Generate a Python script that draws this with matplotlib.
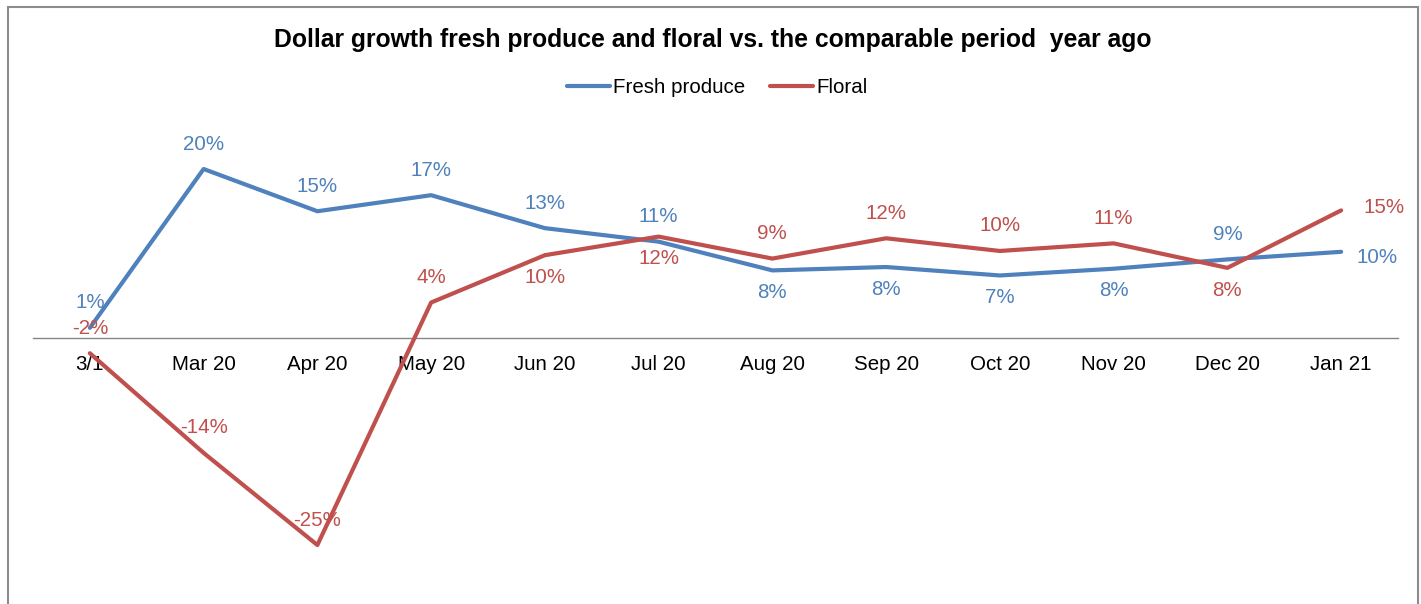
import matplotlib
matplotlib.use("Agg")
import matplotlib.pyplot as plt
import numpy as np
from matplotlib.patches import Rectangle

categories = ["3/1", "Mar 20", "Apr 20", "May 20", "Jun 20", "Jul 20", "Aug 20",
              "Sep 20", "Oct 20", "Nov 20", "Dec 20", "Jan 21"]
fresh = [1.2, 20.0, 15.0, 16.9, 13.0, 11.4, 8.0, 8.4, 7.4, 8.2, 9.3, 10.2]
floral = [-1.8, -13.6, -24.5, 4.2, 9.8, 12.0, 9.4, 11.8, 10.3, 11.2, 8.3, 15.1]
# label placement: 'a' above, 'b' below, 'r' right
fresh_pos = ['a', 'a', 'a', 'a', 'a', 'a', 'b', 'b', 'b', 'b', 'a', 'r']
floral_pos = ['a', 'a', 'a', 'a', 'b', 'b', 'a', 'a', 'a', 'a', 'b', 'r']

BLUE = "#4F81BD"
RED = "#C0504D"

plt.rcParams['font.family'] = ['Liberation Sans', 'DejaVu Sans']

W, H = 1421, 604
fig = plt.figure(figsize=(W / 100, H / 100), dpi=100)

def fx(px):
    return px / W

def fy(py):
    return 1 - py / H

ymin, ymax = -30, 26
pxper = 8.45
zero_px = 338
bot_px = zero_px - ymin * pxper
top_px = zero_px - ymax * pxper
ax = fig.add_axes([fx(33), fy(bot_px), fx(1398) - fx(33), fy(top_px) - fy(bot_px)])
ax.set_xlim(-0.5, len(categories) - 0.5)
ax.set_ylim(ymin, ymax)

x = np.arange(len(categories))
ax.plot(x, fresh, color=BLUE, lw=3.0, label="Fresh produce", solid_capstyle='round', zorder=3)
ax.plot(x, floral, color=RED, lw=3.0, label="Floral", solid_capstyle='round', zorder=3)

for s in ['top', 'right', 'left']:
    ax.spines[s].set_visible(False)
ax.spines['bottom'].set_position(('data', 0))
ax.spines['bottom'].set_color('#868686')
ax.spines['bottom'].set_linewidth(1.0)
ax.set_yticks([])
ax.set_xticks(x)
ax.set_xticklabels(categories, fontsize=14.8)
ax.tick_params(axis='x', length=0, pad=12)

def fmt(v):
    s = -1 if v < 0 else 1
    return f"{s * int(np.floor(abs(v) + 0.5))}%"

def label(vals, pos, color, right_off):
    for i, (v, p) in enumerate(zip(vals, pos)):
        if p == 'a':
            off, ha, va = (0, 18), 'center', 'center'
        elif p == 'b':
            off, ha, va = (0, -16), 'center', 'center'
        else:
            off, ha, va = right_off, 'left', 'center'
        ax.annotate(fmt(v), (i, v), xytext=off, textcoords='offset points',
                    ha=ha, va=va, color=color, fontsize=14.8, annotation_clip=False)

label(fresh, fresh_pos, BLUE, (11, -4))
label(floral, floral_pos, RED, (16, 2))

fig.text(fx(713), fy(40), "Dollar growth fresh produce and floral vs. the comparable period  year ago",
         ha='center', va='center', fontsize=17.8, fontweight='bold')

leg = fig.legend(loc='center', bbox_to_anchor=(fx(717), fy(88)), ncol=2, frameon=False,
                 fontsize=14.8, handlelength=2.1, handletextpad=0.15, columnspacing=1.2)

fig.patches.append(Rectangle((fx(8), fy(700)), fx(1418) - fx(8), fy(7) - fy(700),
                             transform=fig.transFigure, fill=False, edgecolor='#8c8c8c',
                             lw=1.5, clip_on=False))

fig.savefig("out.png", dpi=100)
